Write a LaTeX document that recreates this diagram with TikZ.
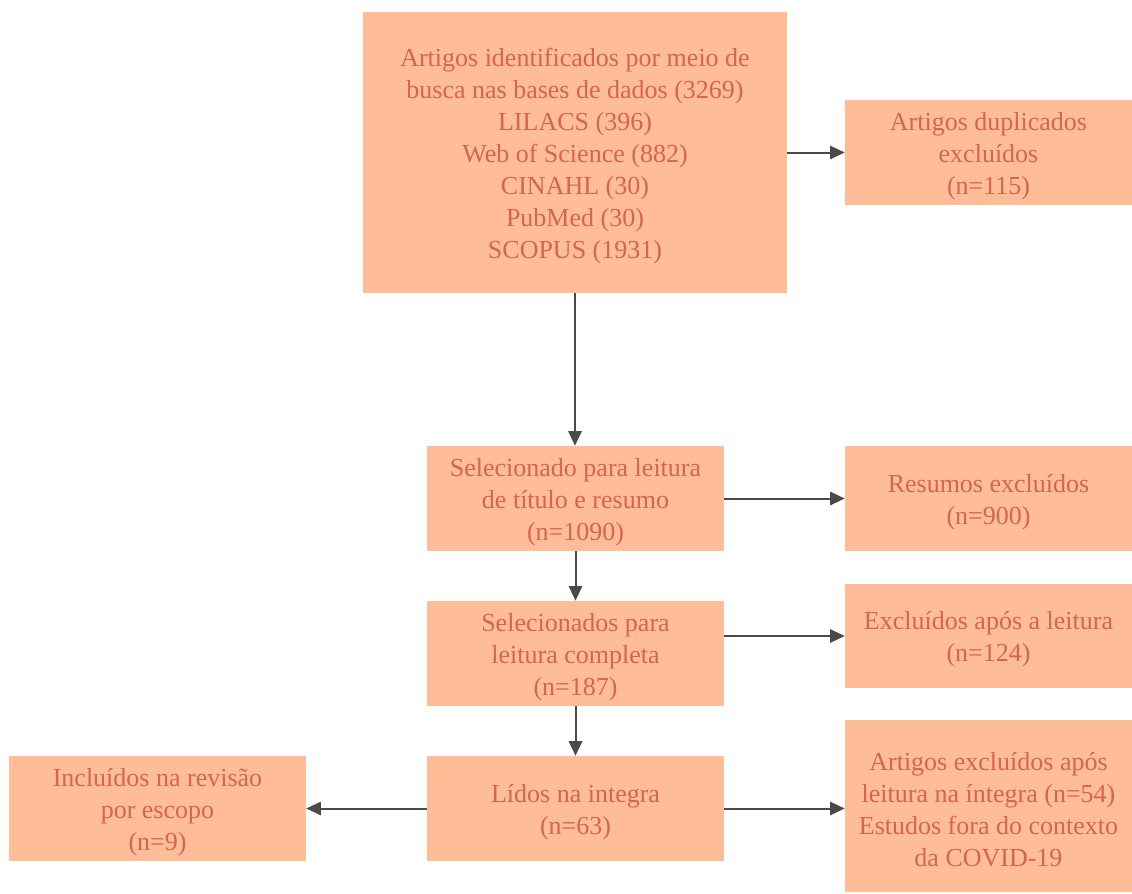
\documentclass[tikz,border=0pt]{standalone}
\usepackage{fontspec}
\setmainfont{Liberation Serif}
\usetikzlibrary{arrows.meta}
\definecolor{boxfill}{HTML}{FFBD97}
\definecolor{boxtext}{HTML}{D4654E}
\definecolor{arrowc}{HTML}{4A4A4A}
\newcommand\topfix{\rule{0pt}{18.5pt}}
\begin{document}
\begin{tikzpicture}[x=0.75pt,y=-0.75pt,
  box/.style={fill=boxfill, draw=none, text=boxtext, align=center, inner sep=0pt,
    font=\fontsize{19.5}{24}\selectfont},
  conn/.style={draw=arrowc, line width=1.5pt, -{Triangle[length=11pt,width=10pt]}}]
\useasboundingbox (0,0) rectangle (1132,893);
\node[box, minimum width=318pt, minimum height=210.75pt] (b1) at (575,152.5)
  {\topfix Artigos identificados por meio de\\busca nas bases de dados (3269)\\LILACS (396)\\Web of Science (882)\\CINAHL (30)\\PubMed (30)\\SCOPUS (1931)};
\node[box, minimum width=215.25pt, minimum height=78.75pt] (b2) at (988.5,152.5)
  {\topfix Artigos duplicados\\excluídos\\(n=115)};
\node[box, minimum width=222.75pt, minimum height=78.75pt] (b3) at (575.5,498.5)
  {\topfix Selecionado para leitura\\de título e resumo\\(n=1090)};
\node[box, minimum width=215.25pt, minimum height=78.75pt] (b4) at (988.5,498.5)
  {\topfix Resumos excluídos\\(n=900)};
\node[box, minimum width=222.75pt, minimum height=78.75pt] (b5) at (575.5,653.5)
  {\topfix Selecionados para\\leitura completa\\(n=187)};
\node[box, minimum width=215.25pt, minimum height=78pt] (b6) at (988.5,636)
  {\topfix Excluídos após a leitura\\(n=124)};
\node[box, minimum width=222.75pt, minimum height=78.75pt] (b7) at (575.5,808.5)
  {\topfix Lídos na integra\\(n=63)};
\node[box, minimum width=222.75pt, minimum height=78.75pt] (b8) at (157.5,808.5)
  {\topfix Incluídos na revisão\\por escopo\\(n=9)};
\node[box, minimum width=215.25pt, minimum height=129pt] (b9) at (988.5,806)
  {\topfix Artigos excluídos após\\leitura na íntegra (n=54)\\Estudos fora do contexto\\da COVID-19};
\draw[conn] (b1.east) -- (b2.west);
\draw[conn] (b1.south) -- (b3.north -| b1.south);
\draw[conn] (b3.east) -- (b4.west);
\draw[conn] (b3.south) -- (b5.north);
\draw[conn] (b6.west -| b5.east) -- (b6.west);
\draw[conn] (b5.south) -- (b7.north);
\draw[conn] (b7.west) -- (b8.east);
\draw[conn] (b7.east) -- (b7.east -| b9.west);
\end{tikzpicture}
\end{document}
